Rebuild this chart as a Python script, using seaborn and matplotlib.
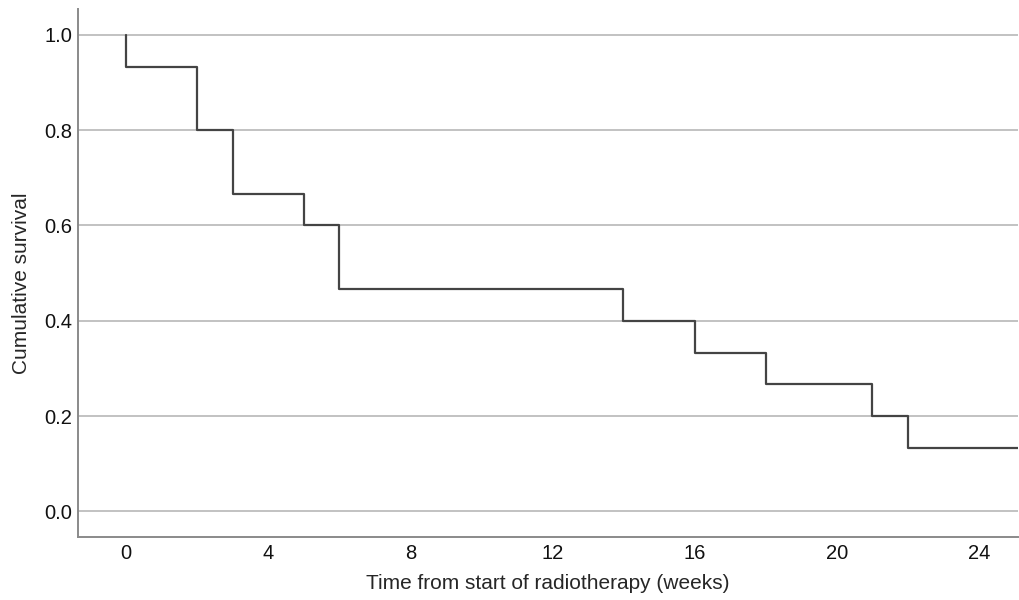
import matplotlib
matplotlib.use("Agg")
import matplotlib.pyplot as plt
import seaborn as sns
import pandas as pd

# Kaplan-Meier estimates
event_weeks = [0, 2, 3, 5, 6, 14, 16, 18, 21, 22]
survival = [0.933, 0.800, 0.667, 0.600, 0.467, 0.400, 0.333, 0.267, 0.200, 0.133]
end_week = 25.1

x_ticks = [0, 4, 8, 12, 16, 20, 24]
y_ticks = [0.0, 0.2, 0.4, 0.6, 0.8, 1.0]

# step curve: start at 1.0, drop at each event, carry on to end of follow-up
df = pd.DataFrame({
    "week": [0] + event_weeks + [end_week],
    "surv": [1.0] + survival + [survival[-1]],
})

sns.set_style("white")
plt.rcParams["font.family"] = ["Liberation Sans", "DejaVu Sans"]

fig = plt.figure(figsize=(10.19, 6), dpi=100)
ax = fig.add_axes([0.0765, 0.105, 0.9225, 0.8805])

for y in y_ticks:
    ax.axhline(y, color="#bdbdbd", lw=1.3, zorder=0)

sns.lineplot(data=df, x="week", y="surv", estimator=None, sort=False,
             drawstyle="steps-post", color="#444444", lw=1.6, ax=ax)

ax.set_xlim(-1.35, 25.1)
ax.set_ylim(-0.054, 1.055)
ax.set_xticks(x_ticks)
ax.set_yticks(y_ticks)
ax.set_yticklabels([f"{v:.1f}" for v in y_ticks])
ax.tick_params(length=0, labelsize=14.5, colors="#111111")
ax.tick_params(axis="y", pad=4)
ax.tick_params(axis="x", pad=5)

ax.set_xlabel("Time from start of radiotherapy (weeks)", fontsize=15, labelpad=8)
ax.set_ylabel("Cumulative survival", fontsize=15)
ax.yaxis.set_label_coords(-0.05, 0.481)

for side in ["top", "right"]:
    ax.spines[side].set_visible(False)
for side in ["left", "bottom"]:
    ax.spines[side].set_color("#8a8a8a")
    ax.spines[side].set_linewidth(1.4)

fig.savefig("out.png", dpi=100)
